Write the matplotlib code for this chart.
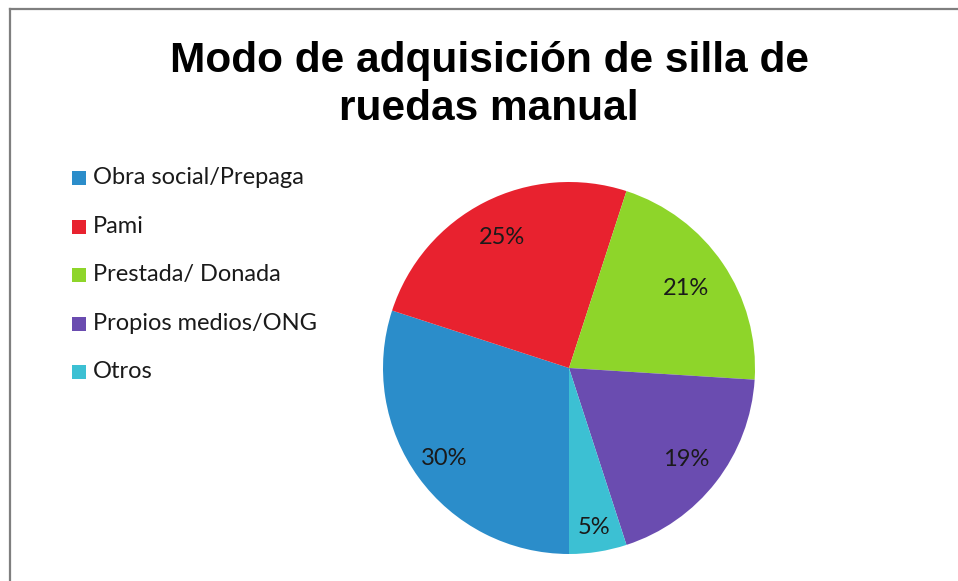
import numpy as np
import matplotlib.pyplot as plt
from matplotlib.lines import Line2D
from matplotlib.patches import Rectangle

categories = ["Obra social/Prepaga", "Pami", "Prestada/ Donada", "Propios medios/ONG", "Otros"]
values = [30, 25, 21, 19, 5]
colors = ["#2b8dca", "#e8222f", "#8ed52a", "#6a4cb0", "#3cc0d3"]

W, H = 958, 581
fig = plt.figure(figsize=(W / 100, H / 100), dpi=100)

# frame lines (top and left only, as in the scan)
fig.add_artist(Line2D([10 / W, 1], [1 - 9 / H, 1 - 9 / H], color="#7f7f7f", lw=1.6))
fig.add_artist(Line2D([10 / W, 10 / W], [0, 1 - 9 / H], color="#7f7f7f", lw=1.6))

# title
title_font = dict(family="Liberation Sans", weight="bold", size=30.5, ha="center", va="baseline")
fig.text(489 / W, 1 - 72 / H, "Modo de adquisición de silla de", **title_font)
fig.text(489 / W, 1 - 120 / H, "ruedas manual", **title_font)

# pie
cx, cy, r = 569, 368, 186
ax = fig.add_axes([(cx - r) / W, (H - cy - r) / H, 2 * r / W, 2 * r / H])
wedges, texts, autotexts = ax.pie(
    values, colors=colors, startangle=-90, counterclock=False,
    autopct=lambda p: f"{p:.0f}%", pctdistance=0.8,
    wedgeprops=dict(linewidth=0),
    textprops=dict(family="Lato", size=17, color="#1a1a1a"),
)
ax.set_xlim(-1, 1)
ax.set_ylim(-1, 1)
ax.set_aspect("equal")

# label distances like Excel's best fit
label_dist = [0.83, 0.79, 0.76, 0.80, 0.87]
for w, t, d in zip(wedges, autotexts, label_dist):
    ang = np.deg2rad((w.theta1 + w.theta2) / 2)
    t.set_position((d * np.cos(ang), d * np.sin(ang)))

# legend
leg_font = dict(family="Lato", size=17, color="#1a1a1a", va="center", ha="left")
for i, (name, col) in enumerate(zip(categories, colors)):
    y = 178 + i * 48.5
    fig.add_artist(Rectangle((72 / W, 1 - (y + 7) / H), 14 / W, 14 / H,
                             transform=fig.transFigure, color=col, lw=0))
    fig.text(93 / W, 1 - y / H, name, **leg_font)

fig.savefig("out.png", dpi=100)
